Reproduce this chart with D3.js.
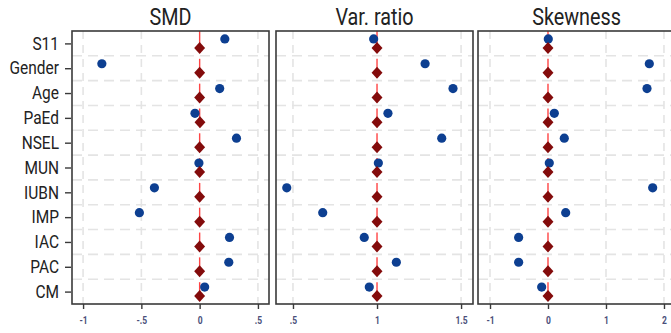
<!DOCTYPE html>
<html>
<head>
<meta charset="utf-8">
<script src="https://cdn.jsdelivr.net/npm/d3@7"></script>
<style>
  html, body { margin: 0; padding: 0; background: #fff; }
  svg { display: block; }
</style>
</head>
<body>
<svg id="chart" width="671" height="333"></svg>
<script>
// ---- data ----
const categories = ["S11", "Gender", "Age", "PaEd", "NSEL", "MUN", "IUBN", "IMP", "IAC", "PAC", "CM"];
const panelTitles = ["SMD", "Var. ratio", "Skewness"];

const smdRaw     = [0.216, -0.839, 0.172, -0.040, 0.316, -0.006, -0.388, -0.517, 0.256, 0.250, 0.043];
const smdMatched = [0.000, 0.000, 0.000, 0.003, 0.000, 0.000, 0.000, 0.000, 0.000, 0.000, 0.000];

const vrRaw      = [0.980, 1.286, 1.452, 1.065, 1.385, 1.008, 0.463, 0.677, 0.924, 1.115, 0.954];
const vrMatched  = [1.000, 1.000, 1.000, 1.000, 1.000, 1.000, 1.000, 1.000, 1.000, 1.000, 1.000];

const skRaw      = [0.005, 1.747, 1.707, 0.109, 0.281, 0.022, 1.805, 0.305, -0.506, -0.506, -0.109];
const skMatched  = [0.000, 0.000, 0.000, 0.000, 0.000, 0.000, 0.000, 0.000, 0.000, 0.000, 0.000];

const refValues = [0, 1, 0];
const tickValues = [[-1, -0.5, 0, 0.5], [0.5, 1, 1.5], [-1, 0, 1, 2]];
const tickLabels = [["-1", "-.5", "0", ".5"], [".5", "1", "1.5"], ["-1", "0", "1", "2"]];

// ---- layout ----
const svg = d3.select("#chart");
const plotTop = 31, plotBottom = 304;
const panels = [
  { x0: 72,  x1: 269, domain: [-1.095, 0.595], raw: smdRaw, matched: smdMatched },
  { x0: 276, x1: 473, domain: [0.399, 1.571],  raw: vrRaw,  matched: vrMatched },
  { x0: 478, x1: 675, domain: [-1.207, 2.190], raw: skRaw,  matched: skMatched }
];
const fontFam = "'Liberation Sans Narrow', 'Arial Narrow', Roboto, sans-serif";

const y = d3.scaleBand().domain(categories).range([plotTop, plotBottom]).paddingInner(0).paddingOuter(0);
const bw = y.bandwidth();

const blue = "#0d3f91";
const darkRed = "#830b0b";
const refRed = "#ff3030";
const gridCol = "#e4e4e4";

panels.forEach((p, i) => {
  const x = d3.scaleLinear().domain(p.domain).range([p.x0, p.x1]);
  const g = svg.append("g");

  // vertical gridlines
  g.selectAll("line.vg").data(tickValues[i].filter(v => v !== refValues[i])).enter()
    .append("line")
    .attr("x1", d => x(d)).attr("x2", d => x(d))
    .attr("y1", plotTop).attr("y2", plotBottom)
    .attr("stroke", gridCol).attr("stroke-width", 1.6)
    .attr("stroke-dasharray", "8,6");

  // horizontal gridlines (between rows)
  g.selectAll("line.hg").data(categories.slice(1)).enter()
    .append("line")
    .attr("x1", p.x0).attr("x2", p.x1)
    .attr("y1", d => y(d)).attr("y2", d => y(d))
    .attr("stroke", gridCol).attr("stroke-width", 1.6)
    .attr("stroke-dasharray", "10,6");

  // reference line segments per row
  g.selectAll("line.ref").data(categories).enter()
    .append("line")
    .attr("x1", x(refValues[i])).attr("x2", x(refValues[i]))
    .attr("y1", (d, k) => k === 0 ? plotTop : y(d) + 3)
    .attr("y2", d => y(d) + bw - 3)
    .attr("stroke", refRed).attr("stroke-width", 1.4)
    .attr("opacity", 0.9);

  // unmatched dots
  g.selectAll("circle").data(categories).enter()
    .append("circle")
    .attr("cx", (d, k) => x(p.raw[k]))
    .attr("cy", d => y(d) + bw / 2 - 4.5)
    .attr("r", 4.6)
    .attr("fill", blue);

  // matched diamonds
  const diamond = d3.symbol().type(d3.symbolDiamond2).size(76);
  g.selectAll("path.dm").data(categories).enter()
    .append("path")
    .attr("transform", (d, k) => `translate(${x(p.matched[k])},${y(d) + bw / 2 + 4.5}) scale(1,1.1)`)
    .attr("d", diamond)
    .attr("fill", darkRed);

  // frame
  g.append("rect")
    .attr("x", p.x0).attr("y", plotTop)
    .attr("width", p.x1 - p.x0).attr("height", plotBottom - plotTop)
    .attr("fill", "none").attr("stroke", "#3a3a3a").attr("stroke-width", 1.6);

  // bottom axis
  const ax = d3.axisBottom(x).tickValues(tickValues[i])
    .tickFormat((d, k) => tickLabels[i][k]).tickSize(5).tickSizeOuter(0).tickPadding(8);
  const axG = g.append("g").attr("transform", `translate(0,${plotBottom})`).call(ax);
  axG.select(".domain").remove();
  axG.selectAll(".tick line").attr("stroke", "#3a3a3a").attr("stroke-width", 1.4);
  axG.selectAll(".tick text")
    .attr("font-family", fontFam)
    .attr("transform", "scale(0.85,1)")
    .attr("font-size", 10).attr("font-weight", "bold").attr("fill", "#4a4f7a");

  // title
  g.append("text")
    .attr("transform", `translate(${(p.x0 + p.x1) / 2},25) scale(0.86,1)`)
    .attr("text-anchor", "middle")
    .attr("font-family", fontFam)
    .attr("font-size", 23).attr("fill", "#222")
    .text(panelTitles[i]);
});

// y axis on first panel
const yAxis = d3.axisLeft(d3.scalePoint().domain(categories).range([plotTop + bw / 2, plotBottom - bw / 2]))
  .tickSize(6).tickPadding(8).tickSizeOuter(0);
const yG = svg.append("g").attr("transform", `translate(${panels[0].x0 - 1},0)`).call(yAxis);
yG.select(".domain").remove();
yG.selectAll(".tick line").attr("stroke", "#3a3a3a").attr("stroke-width", 1.4);
yG.selectAll(".tick text")
  .attr("font-family", fontFam)
  .attr("transform", "scale(0.86,1)")
  .attr("font-size", 18).attr("fill", "#222");
</script>
</body>
</html>
